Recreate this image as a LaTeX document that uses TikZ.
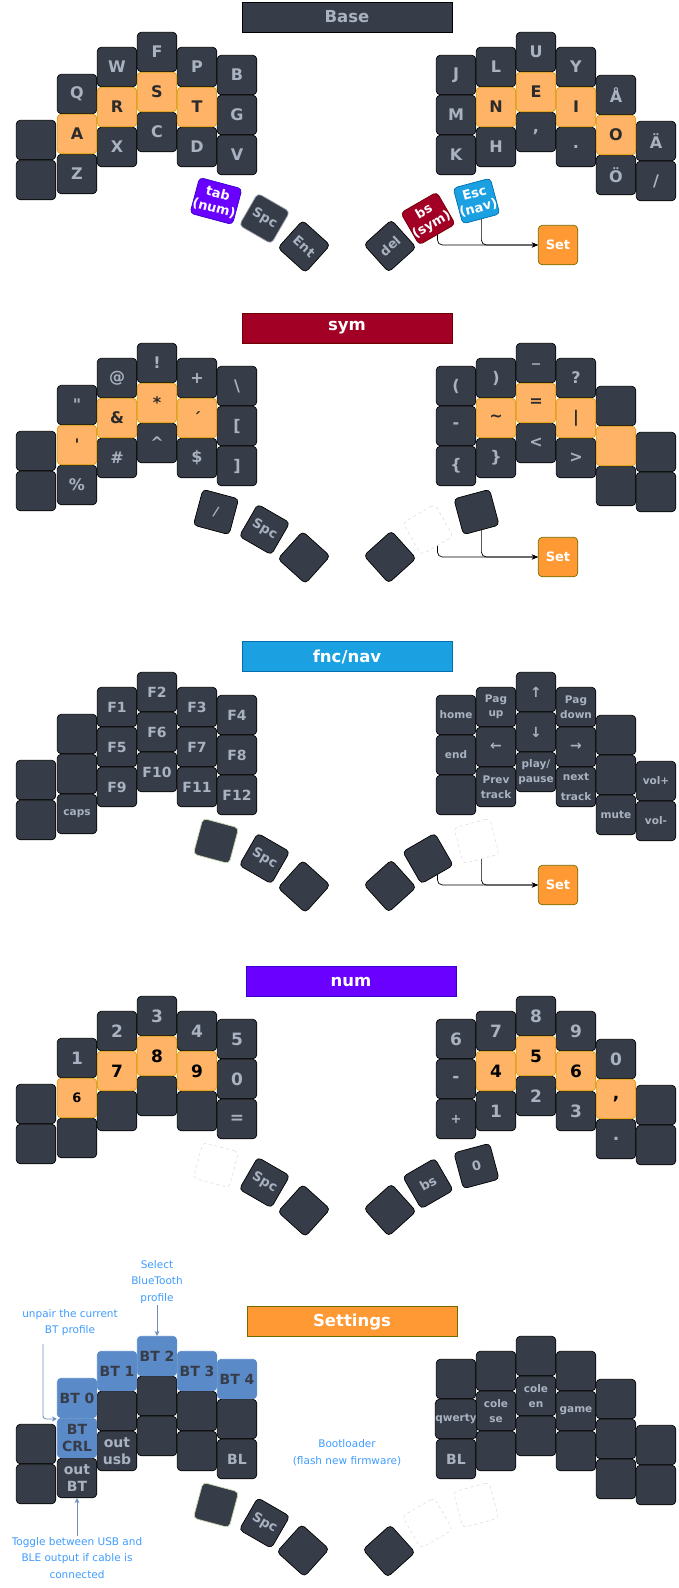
\documentclass[tikz,border=0pt]{standalone}
\usepackage{fontspec}
\setmainfont{DejaVu Sans}[Ligatures=TeXOff]
\usetikzlibrary{arrows.meta,calc}
\definecolor{keybg}{HTML}{373D48}
\definecolor{keyfg}{HTML}{A9B2C1}
\definecolor{homebg}{HTML}{FFB366}
\definecolor{homebd}{HTML}{D79B00}
\definecolor{homefg}{HTML}{2B2B2B}
\definecolor{btbg}{HTML}{5B8AC9}
\definecolor{btfg}{HTML}{373D48}
\definecolor{symc}{HTML}{A20025}\definecolor{symd}{HTML}{6F0000}
\definecolor{navc}{HTML}{1BA1E2}\definecolor{navd}{HTML}{006EAF}
\definecolor{numc}{HTML}{6A00FF}\definecolor{numd}{HTML}{3700CC}
\definecolor{setc}{HTML}{FF9933}\definecolor{setd}{HTML}{6D6D00}
\definecolor{ghostc}{HTML}{E0E0E0}
\definecolor{annc}{HTML}{3F9CFF}
\definecolor{anna}{HTML}{6C8EBF}
\definecolor{greenc}{HTML}{C5D8AE}
\definecolor{spcb}{HTML}{9AA1AD}
\newcommand\kfA{\fontsize{16}{18}\selectfont\bfseries}
\newcommand\kfH{\fontsize{16.5}{18}\selectfont\bfseries}
\newcommand\kfB{\fontsize{14}{16.7}\selectfont\bfseries}
\newcommand\kfC{\fontsize{10.5}{14.5}\selectfont\bfseries}
\newcommand\kfT{\fontsize{13}{15}\selectfont\bfseries}
\newcommand\kfN{\fontsize{17}{19}\selectfont\bfseries}
\newcommand\kfS{\fontsize{10.5}{16.7}\selectfont}
\tikzset{
 key/.style={draw=black, line width=0.7pt, fill=keybg, rounded corners=4pt, minimum width=39.5pt, minimum height=39.5pt, inner sep=0pt, text=keyfg, font=\kfA, align=center},
 hk/.style={key, fill=homebg, draw=homebd, text=homefg},
 hkn/.style={hk, text=black},
 btk/.style={key, fill=btbg, draw=btbg, text=btfg, font=\kfB},
 tk/.style={key, minimum width=37pt, minimum height=37pt, font=\kfT},
 gk/.style={draw=ghostc, dashed, line width=0.6pt, rounded corners=4pt, minimum width=37pt, minimum height=37pt, inner sep=0pt},
 setk/.style={key, fill=setc, draw=setd, text=white, font=\kfT},
 ttl/.style={minimum width=210pt, minimum height=30pt, inner sep=0pt, font=\kfH, text=white, line width=0.7pt},
 conn/.style={draw=black, line width=0.7pt, rounded corners=5pt, -{Stealth[length=6pt,width=5pt]}},
 ann/.style={text=annc, font=\kfS, align=center, inner sep=1pt},
 annar/.style={draw=anna, line width=0.8pt, rounded corners=3pt, -{Stealth[length=5pt,width=5pt]}},
}
\begin{document}
\begin{tikzpicture}[x=1pt,y=-1pt]
\useasboundingbox (0,0) rectangle (679,1588);
\fill[white] (0,0) rectangle (679,1588);

% ================= BASE =================
\begin{scope}
\node[ttl, fill=keybg, draw=black, text=keyfg] (b-t) at (347,17) {Base};
\node[key] (b-l00) at (36,140) {};
\node[key] (b-l01) at (36,180) {};
\node[key] (b-l10) at (77,94) {Q};
\node[key] (b-l12) at (77,174) {Z};
\node[key] (b-l20) at (117,67) {W};
\node[key] (b-l22) at (117,147) {X};
\node[key] (b-l30) at (157,52) {F};
\node[key] (b-l32) at (157,132) {C};
\node[key] (b-l40) at (197,67) {P};
\node[key] (b-l42) at (197,147) {D};
\node[key] (b-l50) at (237,75) {B};
\node[key] (b-l51) at (237,115) {G};
\node[key] (b-l52) at (237,155) {V};
\node[hk] (b-l11) at (77,134) {A};
\node[hk] (b-l21) at (117,107) {R};
\node[hk] (b-l31) at (157,92) {S};
\node[hk] (b-l41) at (197,107) {T};
\node[key] (b-r00) at (456,75) {J};
\node[key] (b-r01) at (456,115) {M};
\node[key] (b-r02) at (456,155) {K};
\node[key] (b-r10) at (496,67) {L};
\node[key] (b-r12) at (496,147) {H};
\node[key] (b-r20) at (536,52) {U};
\node[key] (b-r22) at (536,132) {,};
\node[key] (b-r30) at (576,67) {Y};
\node[key] (b-r32) at (576,147) {.};
\node[key] (b-r40) at (616,95) {Å};
\node[key] (b-r42) at (616,175) {Ö};
\node[key] (b-r50) at (656,141) {Ä};
\node[key] (b-r51) at (656,181) {/};
\node[hk] (b-r11) at (496,107) {N};
\node[hk] (b-r21) at (536,92) {E};
\node[hk] (b-r31) at (576,107) {I};
\node[hk] (b-r41) at (616,135) {O};
\node[tk, fill=numc, draw=numd, text=white, rotate=-15] (b-t1) at (216,201) {tab\\(num)};
\node[tk, draw=spcb, rotate=-30] (b-t2) at (264.5,218.5) {Spc};
\node[tk, rotate=-42] (b-t3) at (304,246.5) {Ent};
\node[tk, rotate=42] (b-t4) at (390,246) {del};
\node[tk, fill=symc, draw=symd, text=white, rotate=30] (b-t5) at (428,218.5) {bs\\(sym)};
\node[tk, fill=navc, draw=navd, text=white, rotate=15] (b-t6) at (476.5,201) {Esc\\(nav)};
\node[setk] (b-set) at (558,245) {Set};
\draw[conn] (b-t5.south) |- (b-set.west);
\draw[conn] (b-t6.south) |- (b-set.west);
\end{scope}

% ================= SYM =================
\begin{scope}[shift={(0,311)}]
\node[ttl, fill=symc, draw=symd] (y-t) at (347,17) {sym};
\node[key] (y-l00) at (36,140) {};
\node[key] (y-l01) at (36,180) {};
\node[key] (y-l10) at (77,94) {"};
\node[key] (y-l12) at (77,174) {\%};
\node[key] (y-l20) at (117,67) {@};
\node[key] (y-l22) at (117,147) {\#};
\node[key] (y-l30) at (157,52) {!};
\node[key] (y-l32) at (157,132) {\textasciicircum};
\node[key] (y-l40) at (197,67) {+};
\node[key] (y-l42) at (197,147) {\$};
\node[key] (y-l50) at (237,75) {\textbackslash};
\node[key] (y-l51) at (237,115) {[};
\node[key] (y-l52) at (237,155) {]};
\node[hk] (y-l11) at (77,134) {'};
\node[hk] (y-l21) at (117,107) {\&};
\node[hk] (y-l31) at (157,92) {*};
\node[hk] (y-l41) at (197,107) {´};
\node[key] (y-r00) at (456,75) {(};
\node[key] (y-r01) at (456,115) {-};
\node[key] (y-r02) at (456,155) {\{};
\node[key] (y-r10) at (496,67) {)};
\node[key] (y-r12) at (496,147) {\}};
\node[key] (y-r20) at (536,52) {\_};
\node[key] (y-r22) at (536,132) {<};
\node[key] (y-r30) at (576,67) {?};
\node[key] (y-r32) at (576,147) {>};
\node[key] (y-r40) at (616,95) {};
\node[key] (y-r42) at (616,175) {};
\node[key] (y-r50) at (656,141) {};
\node[key] (y-r51) at (656,181) {};
\node[hk] (y-r11) at (496,107) {\textasciitilde};
\node[hk] (y-r21) at (536,92) {=};
\node[hk] (y-r31) at (576,107) {|};
\node[hk] (y-r41) at (616,135) {};
\node[tk, rotate=-15] (y-t1) at (216,201) {/};
\node[tk, rotate=-30] (y-t2) at (264.5,218.5) {Spc};
\node[tk, rotate=-42] (y-t3) at (304,246.5) {};
\node[tk, rotate=42] (y-t4) at (390,246) {};
\node[gk, rotate=30] (y-t5) at (428,218.5) {};
\node[tk, rotate=15] (y-t6) at (476.5,201) {};
\node[setk] (y-set) at (558,246) {Set};
\draw[conn] (y-t5.south) |- (y-set.west);
\draw[conn] (y-t6.south) |- (y-set.west);
\end{scope}

% ================= FNC/NAV =================
\begin{scope}[shift={(0,640)}]
\node[ttl, fill=navc, draw=navd] (f-t) at (347,16.5) {fnc/nav};
\node[key] (f-l00) at (36,140) {};
\node[key] (f-l01) at (36,180) {};
\node[key] (f-l10) at (77,94) {};
\node[key] (f-l11) at (77,134) {};
\node[key] (f-l12) at (77,174) {\kfC caps};
\node[key, font=\kfB] (f-l20) at (117,67) {F1};
\node[key, font=\kfB] (f-l21) at (117,107) {F5};
\node[key, font=\kfB] (f-l22) at (117,147) {F9};
\node[key, font=\kfB] (f-l30) at (157,52) {F2};
\node[key, font=\kfB] (f-l31) at (157,92) {F6};
\node[key, font=\kfB] (f-l32) at (157,132) {F10};
\node[key, font=\kfB] (f-l40) at (197,67) {F3};
\node[key, font=\kfB] (f-l41) at (197,107) {F7};
\node[key, font=\kfB] (f-l42) at (197,147) {F11};
\node[key, font=\kfB] (f-l50) at (237,75) {F4};
\node[key, font=\kfB] (f-l51) at (237,115) {F8};
\node[key, font=\kfB] (f-l52) at (237,155) {F12};
\node[key, font=\kfC] (f-r00) at (456,75) {home};
\node[key, font=\kfC] (f-r01) at (456,115) {end};
\node[key] (f-r02) at (456,155) {};
\node[key, font=\kfC] (f-r10) at (496,67) {Pag\\up};
\node[key, font=\kfB] (f-r11) at (496,107) {←};
\node[key, font=\kfC] (f-r12) at (496,147) {Prev\\track};
\node[key, font=\kfB] (f-r20) at (536,52) {↑};
\node[key, font=\kfB] (f-r21) at (536,92) {↓};
\node[key, font=\kfC] (f-r22) at (536,132) {play/\\pause};
\node[key, font=\kfC] (f-r30) at (576,67) {Pag\\down};
\node[key, font=\kfB] (f-r31) at (576,107) {→};
\node[key, font=\kfC] (f-r32) at (576,147) {next\\[6pt]track};
\node[key] (f-r40) at (616,95) {};
\node[key] (f-r41) at (616,135) {};
\node[key, font=\kfC] (f-r42) at (616,175) {mute};
\node[key, font=\kfC] (f-r50) at (656,141) {vol+};
\node[key, font=\kfC] (f-r51) at (656,181) {vol-};
\node[tk, draw=greenc, rotate=-15] (f-t1) at (216,201) {};
\node[tk, rotate=-30] (f-t2) at (264.5,218.5) {Spc};
\node[tk, rotate=-42] (f-t3) at (304,246.5) {};
\node[tk, rotate=42] (f-t4) at (390,246) {};
\node[tk, rotate=30] (f-t5) at (428,218.5) {};
\node[gk, rotate=15] (f-t6) at (476.5,201) {};
\node[setk] (f-set) at (558,245) {Set};
\draw[conn] (f-t5.south) |- (f-set.west);
\draw[conn] (f-t6.south) |- (f-set.west);
\end{scope}

% ================= NUM =================
\begin{scope}[shift={(0,964)}]
\node[ttl, fill=numc, draw=numd] (n-t) at (351,17.5) {num};
\node[key] (n-l00) at (36,140) {};
\node[key] (n-l01) at (36,180) {};
\node[key, font=\kfN] (n-l10) at (77,94) {1};
\node[key] (n-l12) at (77,174) {};
\node[key, font=\kfN] (n-l20) at (117,67) {2};
\node[key] (n-l22) at (117,147) {};
\node[key, font=\kfN] (n-l30) at (157,52) {3};
\node[key] (n-l32) at (157,132) {};
\node[key, font=\kfN] (n-l40) at (197,67) {4};
\node[key] (n-l42) at (197,147) {};
\node[key, font=\kfN] (n-l50) at (237,75) {5};
\node[key, font=\kfN] (n-l51) at (237,115) {0};
\node[key, font=\kfN] (n-l52) at (237,155) {=};
\node[hkn, font=\kfT] (n-l11) at (77,134) {6};
\node[hkn, font=\kfN] (n-l21) at (117,107) {7};
\node[hkn, font=\kfN] (n-l31) at (157,92) {8};
\node[hkn, font=\kfN] (n-l41) at (197,107) {9};
\node[key, font=\kfN] (n-r00) at (456,75) {6};
\node[key, font=\kfN] (n-r01) at (456,115) {-};
\node[key, font=\kfT] (n-r02) at (456,155) {+};
\node[key, font=\kfN] (n-r10) at (496,67) {7};
\node[key, font=\kfN] (n-r12) at (496,147) {1};
\node[key, font=\kfN] (n-r20) at (536,52) {8};
\node[key, font=\kfN] (n-r22) at (536,132) {2};
\node[key, font=\kfN] (n-r30) at (576,67) {9};
\node[key, font=\kfN] (n-r32) at (576,147) {3};
\node[key, font=\kfN] (n-r40) at (616,95) {0};
\node[key, font=\kfN] (n-r42) at (616,175) {.};
\node[key] (n-r50) at (656,141) {};
\node[key] (n-r51) at (656,181) {};
\node[hkn, font=\kfN] (n-r11) at (496,107) {4};
\node[hkn, font=\kfN] (n-r21) at (536,92) {5};
\node[hkn, font=\kfN] (n-r31) at (576,107) {6};
\node[hkn, font=\kfN] (n-r41) at (616,135) {,};
\node[gk, rotate=-15] (n-t1) at (216,201) {};
\node[tk, rotate=-30] (n-t2) at (264.5,218.5) {Spc};
\node[tk, rotate=-42] (n-t3) at (304,246.5) {};
\node[tk, rotate=42] (n-t4) at (390,246) {};
\node[tk, rotate=30] (n-t5) at (428,219.5) {bs};
\node[tk, rotate=15] (n-t6) at (476.5,202) {0};
\end{scope}

% ================= SETTINGS =================
\begin{scope}[shift={(0,1304)}]
\node[ttl, fill=setc, draw=setd] (s-t) at (352,17.5) {Settings};
\node[key] (s-l00) at (36,140) {};
\node[key] (s-l01) at (36,180) {};
\node[key] (s-l21) at (117,107) {};
\node[key, font=\kfB] (s-l22) at (117,147) {out\\usb};
\node[key] (s-l31) at (157,92) {};
\node[key] (s-l32) at (157,132) {};
\node[key] (s-l41) at (197,107) {};
\node[key] (s-l42) at (197,147) {};
\node[key] (s-l51) at (237,115) {};
\node[key, font=\kfB] (s-l52) at (237,155) {BL};
\node[key, font=\kfB] (s-l12) at (77,174) {out\\BT};
\node[btk] (s-l10) at (77,94) {BT 0};
\node[btk] (s-l11) at (77,134) {BT\\CRL};
\node[btk] (s-l20) at (117,67) {BT 1};
\node[btk] (s-l30) at (157,52) {BT 2};
\node[btk] (s-l40) at (197,67) {BT 3};
\node[btk] (s-l50) at (237,75) {BT 4};
\node[key] (s-r00) at (456,75) {};
\node[key, font=\kfC] (s-r01) at (456,115) {qwerty};
\node[key, font=\kfB] (s-r02) at (456,155) {BL};
\node[key] (s-r10) at (496,67) {};
\node[key, font=\kfC] (s-r11) at (496,107) {cole\\se};
\node[key] (s-r12) at (496,147) {};
\node[key] (s-r20) at (536,52) {};
\node[key, font=\kfC] (s-r21) at (536,92) {cole\\en};
\node[key] (s-r22) at (536,132) {};
\node[key] (s-r30) at (576,67) {};
\node[key, font=\kfC] (s-r31) at (576,107) {game};
\node[key] (s-r32) at (576,147) {};
\node[key] (s-r40) at (616,95) {};
\node[key] (s-r41) at (616,135) {};
\node[key] (s-r42) at (616,175) {};
\node[key] (s-r50) at (656,141) {};
\node[key] (s-r51) at (656,181) {};
\node[tk, draw=greenc, rotate=-15] (s-t1) at (216,201) {};
\node[tk, rotate=-30] (s-t2) at (264.5,219) {Spc};
\node[tk, rotate=-42] (s-t3) at (303,246.5) {};
\node[tk, rotate=42] (s-t4) at (389,247) {};
\node[gk, rotate=30] (s-t5) at (427.5,219) {};
\node[gk, rotate=15] (s-t6) at (476,201) {};
\end{scope}

% annotations
\node[ann] (sel) at (157,1282) {Select\\BlueTooth\\profile};
\draw[annar] (sel.south) -- (s-l30.north);
\node[ann] (unp) at (70,1322.5) {unpair the current\\BT profile};
\coordinate (unpA) at (43,1344);
\draw[annar] (unpA) |- ([yshift=-1pt]s-l11.north west);
\node[ann] (tog) at (77,1558) {Toggle between USB and\\BLE output if cable is\\connected};
\draw[annar] (tog.north) -- (s-l12.south);
\node[ann] (boot) at (347,1452.5) {Bootloader\\(flash new firmware)};
\end{tikzpicture}
\end{document}
